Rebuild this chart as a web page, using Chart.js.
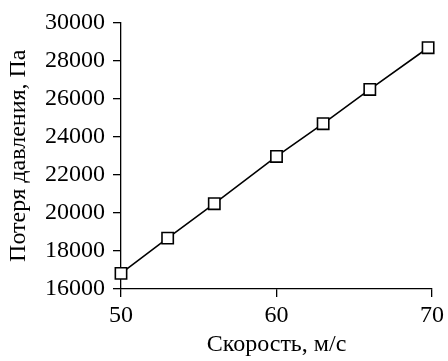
<!DOCTYPE html>
<html>
<head>
<meta charset="utf-8">
<script src="https://cdn.jsdelivr.net/npm/chart.js@4/dist/chart.umd.min.js"></script>
<style>
  html, body { margin: 0; padding: 0; background: #fff; }
  #wrap { width: 448px; height: 361px; }
</style>
</head>
<body>
<div id="wrap"><canvas id="grafico" width="448" height="361"></canvas></div>
<script>
// dados
const velocidade = [50, 53, 56, 60, 63, 66, 69.75];
const perdaPressao = [16820, 18670, 20480, 22960, 24680, 26480, 28670];
const ticksX = [50, 60, 70];
const ticksY = [16000, 18000, 20000, 22000, 24000, 26000, 28000, 30000];

const fonte = { family: "'Liberation Serif', 'DejaVu Serif', serif", size: 24 };

const ctx = document.getElementById('grafico').getContext('2d');

const grafico = new Chart(ctx, {
  type: 'line',
  data: {
    datasets: [{
      data: velocidade.map((v, i) => ({ x: v, y: perdaPressao[i] })),
      borderColor: '#000',
      borderWidth: 1.6,
      pointStyle: 'rect',
      pointRadius: 8,
      pointBorderWidth: 1.6,
      pointBackgroundColor: '#fff',
      pointBorderColor: '#000',
      tension: 0,
      clip: false
    }]
  },
  options: {
    responsive: false,
    animation: false,
    layout: { padding: { left: 4, right: 14, top: 20, bottom: 2 } },
    plugins: { legend: { display: false }, tooltip: { enabled: false } },
    scales: {
      x: {
        type: 'linear',
        min: 50,
        max: 70,
        afterBuildTicks: s => { s.ticks = ticksX.map(v => ({ value: v })); },
        afterFit: s => { s.height = 70; },
        grid: { drawOnChartArea: false, drawTicks: true, tickLength: 8, color: '#000', lineWidth: 1.3 },
        border: { display: true, color: '#000', width: 1.3 },
        ticks: { color: '#000', font: fonte, padding: 4, maxRotation: 0, callback: v => String(v) },
        title: { display: true, text: 'Скорость, м/с', color: '#000', font: fonte, padding: 0 }
      },
      y: {
        min: 16000,
        max: 30000,
        afterBuildTicks: s => { s.ticks = ticksY.map(v => ({ value: v })); },
        afterFit: s => { s.width = 117; },
        grid: { drawOnChartArea: false, drawTicks: true, tickLength: 8, color: '#000', lineWidth: 1.3 },
        border: { display: true, color: '#000', width: 1.3 },
        ticks: { color: '#000', font: fonte, padding: 8, callback: v => String(v) },
        title: { display: true, text: 'Потеря давления, Па', color: '#000', font: fonte, padding: 0 }
      }
    }
  }
});
</script>
</body>
</html>
